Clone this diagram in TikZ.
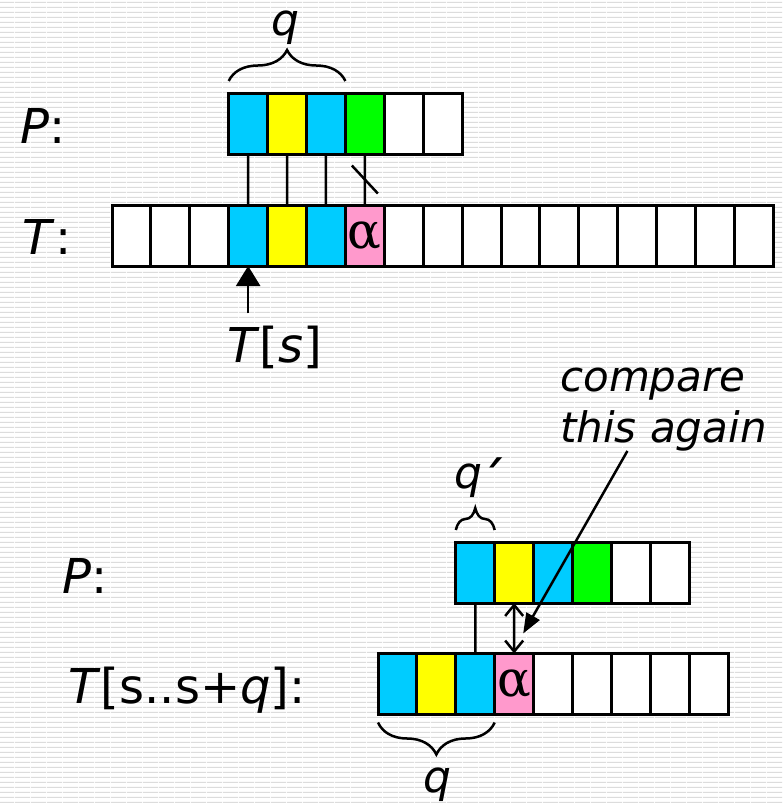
\documentclass[tikz,border=0pt]{standalone}
\usepackage{fontspec}
\setmainfont{DejaVu Sans}
\newfontfamily\greekfont{DejaVu Serif}
\usetikzlibrary{patterns,calc,arrows.meta,decorations.pathreplacing}

\definecolor{cellblue}{HTML}{00CCFF}
\definecolor{cellyellow}{HTML}{FFFF00}
\definecolor{cellgreen}{HTML}{00FF00}
\definecolor{cellpink}{HTML}{FF99CC}
\definecolor{stripe}{HTML}{DCDCDC}

\tikzset{
  cell/.style={draw,line width=3pt,minimum width=38.9pt,minimum height=61pt,
    inner sep=0pt,outer sep=0pt},
  link/.style={line width=2.5pt},
  curly/.style={decorate,decoration={brace,amplitude=#1},line width=2.5pt},
  lbl/.style={inner sep=0pt,font=\fontsize{48}{56}\selectfont},
  qlbl/.style={inner sep=0pt,font=\fontsize{44}{52}\selectfont\itshape},
  note/.style={inner sep=0pt,align=left,font=\fontsize{42}{51}\selectfont\itshape},
}
\newcommand\mism[1]{\raisebox{-3pt}{\greekfont\fontsize{50}{50}\selectfont #1}}

\begin{document}
\begin{tikzpicture}[x=1pt,y=-1pt]
  \pgfdeclarepatternformonly{slide stripes}
    {\pgfpointorigin}
    {\pgfqpoint{16pt}{4.6pt}}
    {\pgfqpoint{16pt}{4.6pt}}
    {
      \pgfpathrectangle{\pgfpointorigin}{\pgfqpoint{16pt}{1.2pt}}
      \pgfusepath{fill}
    }

  \fill[white] (0,0) rectangle (783,803);
  \fill[pattern=slide stripes,pattern color=stripe] (0,0) rectangle (783,803);
  \useasboundingbox (0,0) rectangle (783,803);

  % first shift: pattern over the text
  \foreach \i/\c in {1/cellblue,2/cellyellow,3/cellblue,4/cellgreen,5/white,6/white}
    \node[cell,fill=\c] (p\i) at ({228.7+38.9*(\i-0.5)},123.5) {};
  \foreach \i in {1,2,3,8,9,10,11,12,13,14,15,16,17}
    \node[cell,fill=white] (t\i) at ({112+38.9*(\i-0.5)},235.5) {};
  \foreach \i/\c/\s in {4/cellblue/,5/cellyellow/,6/cellblue/,7/cellpink/α}
    \node[cell,fill=\c] (t\i) at ({112+38.9*(\i-0.5)},235.5) {\mism{\s}};

  \node[lbl,anchor=base] (plbl) at (43,143) {\textit{P}:};
  \node[lbl,anchor=base] (tlbl) at (47,254) {\textit{T}:};

  \foreach \a/\b in {1/4,2/5,3/6,4/7}
    \draw[link] (p\a.south) -- (t\b.north);
  \draw[link] ($(p4.south)!.5!(t7.north)$) ++(-13,-14) -- ++(26,28);

  \draw[curly=31] ([yshift=12pt]p1.north west) -- ([yshift=12pt]p3.north east);
  \node[qlbl,anchor=base] (qtop) at (285,35) {q};

  \node[lbl,anchor=base] (ts) at (275,362) {\textit{T}[\textit{s}]};
  \draw[link,-{Triangle[width=24pt,length=20pt]}] (ts.north -| t4.south) ++(0,-12) -- (t4.south);

  % second shift: only the mismatch is checked again
  \foreach \i/\c in {1/cellblue,2/cellyellow,3/cellblue,4/cellgreen,5/white,6/white}
    \node[cell,fill=\c] (bp\i) at ({455.8+38.9*(\i-0.5)},572.5) {};
  \foreach \i/\c/\s in {1/cellblue/,2/cellyellow/,3/cellblue/,4/cellpink/α,5/white/,6/white/,7/white/,8/white/,9/white/}
    \node[cell,fill=\c] (bt\i) at ({378+38.9*(\i-0.5)},684) {\mism{\s}};

  \node[lbl,anchor=base] (bplbl) at (85,593) {\textit{P}:};
  \node[lbl,anchor=base] (btlbl) at (187,703) {\textit{T}[s..s+\textit{q}]:};

  \draw[link] (bp1.south) -- (bt3.north);
  \draw[link,{Straight Barb[length=11pt,width=18pt]}-{Straight Barb[length=11pt,width=18pt]}]
    (bp2.south) -- (bt4.north);

  \draw[curly=22] ([yshift=12pt]bp1.north west) -- ([yshift=12pt]bp1.north east);
  \node[qlbl,anchor=base] (qprime) at (481,488)
    {q\kern-2pt\raisebox{-14pt}{\upshape\fontsize{56}{56}\selectfont ´}};

  \draw[curly=32] ([yshift=-8pt]bt3.south east) -- ([yshift=-8pt]bt1.south west);
  \node[qlbl,anchor=base] (qbot) at (437,792) {q};

  \node[note,anchor=base west] (cmp) at (560,442) {compare\\this again};
  \draw[link,-{Triangle[width=15pt,length=20pt]}] ([xshift=-36pt]cmp.south)
    -- ([shift={(9,-20)}]bt4.north);
\end{tikzpicture}
\end{document}
